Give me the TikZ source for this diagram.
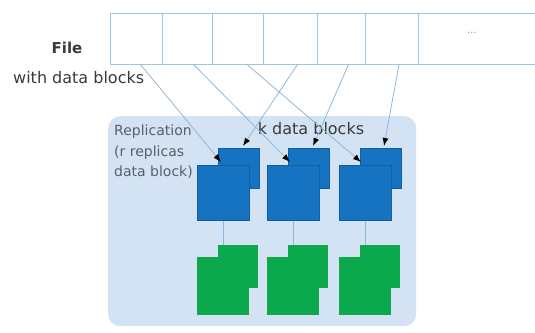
\documentclass[tikz,border=0pt]{standalone}
\usepackage{fontspec}
\setmainfont{DejaVu Sans}
\usetikzlibrary{arrows.meta}
\definecolor{strip}{HTML}{9FC5E0}
\definecolor{panel}{HTML}{D4E3F3}
\definecolor{bblue}{HTML}{1573C1}
\definecolor{bedge}{HTML}{0F5FA3}
\definecolor{ggreen}{HTML}{0CA84C}
\definecolor{txt}{HTML}{3A3A3A}
\definecolor{gtxt}{HTML}{56606C}
\definecolor{link}{HTML}{8DB8DA}
\begin{document}
\begin{tikzpicture}[x=1pt,y=-1pt,
  cell/.style={draw=strip,line width=1pt,fill=white,minimum height=51pt,inner sep=0pt,anchor=north west},
  backblue/.style={fill=bblue,draw=bedge,line width=0.5pt,minimum width=41pt,minimum height=40pt,inner sep=0pt,anchor=north west},
  frontblue/.style={fill=bblue,draw=bedge,line width=0.5pt,minimum width=52pt,minimum height=55pt,inner sep=0pt,anchor=north west},
  backgreen/.style={fill=ggreen,minimum width=40pt,minimum height=43pt,inner sep=0pt,anchor=north west},
  frontgreen/.style={fill=ggreen,minimum width=52pt,minimum height=58pt,inner sep=0pt,anchor=north west},
  feed/.style={draw=link,line width=0.8pt,-{Latex[length=8pt,width=6pt,black]}},
  tie/.style={draw=link,line width=0.9pt}]
\useasboundingbox (0,0) rectangle (535,332);
% panel
\node[fill=panel,rounded corners=12pt,minimum width=308pt,minimum height=210pt,anchor=north west,inner sep=0pt] (panel) at (108,116) {};
% file strip
\node[cell,minimum width=52pt] (c1) at (110,12.5) {};
\node[cell,minimum width=50pt] (c2) at (162,12.5) {};
\node[cell,minimum width=51pt] (c3) at (212,12.5) {};
\node[cell,minimum width=54pt] (c4) at (263,12.5) {};
\node[cell,minimum width=48pt] (c5) at (317,12.5) {};
\node[cell,minimum width=53pt] (c6) at (365,12.5) {};
\node[cell,minimum width=120pt] (c7) at (418,12.5) {};
\node[text=strip!80!black,font=\fontsize{10}{11}\selectfont] (dots) at (472,33) {...};
% labels
\node[text=txt,font=\fontsize{15}{17}\selectfont\bfseries] (file) at (67,48) {File};
\node[text=txt,font=\fontsize{16}{18}\selectfont,anchor=west,inner sep=0pt] (with) at (13,78) {with data blocks};
\node[text=txt,font=\fontsize{16}{18}\selectfont] (kdb) at (311,129) {k data blocks};
\node[text=gtxt,font=\fontsize{14}{20.5}\selectfont,align=left,anchor=north west,inner sep=0pt] (repl) at (114,125) {Replication\\(r replicas\\data block)};
% groups
\foreach \i/\dx in {1/0,2/70,3/142}{
  \node[backblue] (bb\i) at (218+\dx,148) {};
  \node[frontblue] (bf\i) at (197+\dx,165) {};
  \node[backgreen] (gb\i) at (218+\dx,245) {};
  \node[frontgreen] (gf\i) at (197+\dx,257) {};
  \draw[tie] (bf\i.south) -- (bf\i.south |- gb\i.north);
}
% end points of arrows
\coordinate (t1) at (221,162);
\coordinate (t2) at (290,162);
\coordinate (t3) at (361,162);
\coordinate (u1) at (243,146);
\coordinate (u2) at (313,146);
\coordinate (u3) at (384,146);
\draw[feed] ([xshift=4pt]c1.south) -- (t1);
\draw[feed] ([xshift=6pt]c2.south) -- (t2);
\draw[feed] ([xshift=9pt]c3.south) -- (t3);
\draw[feed] ([xshift=7pt]c4.south) -- (u1);
\draw[feed] ([xshift=7pt]c5.south) -- (u2);
\draw[feed] ([xshift=7pt]c6.south) -- (u3);
\end{tikzpicture}
\end{document}
